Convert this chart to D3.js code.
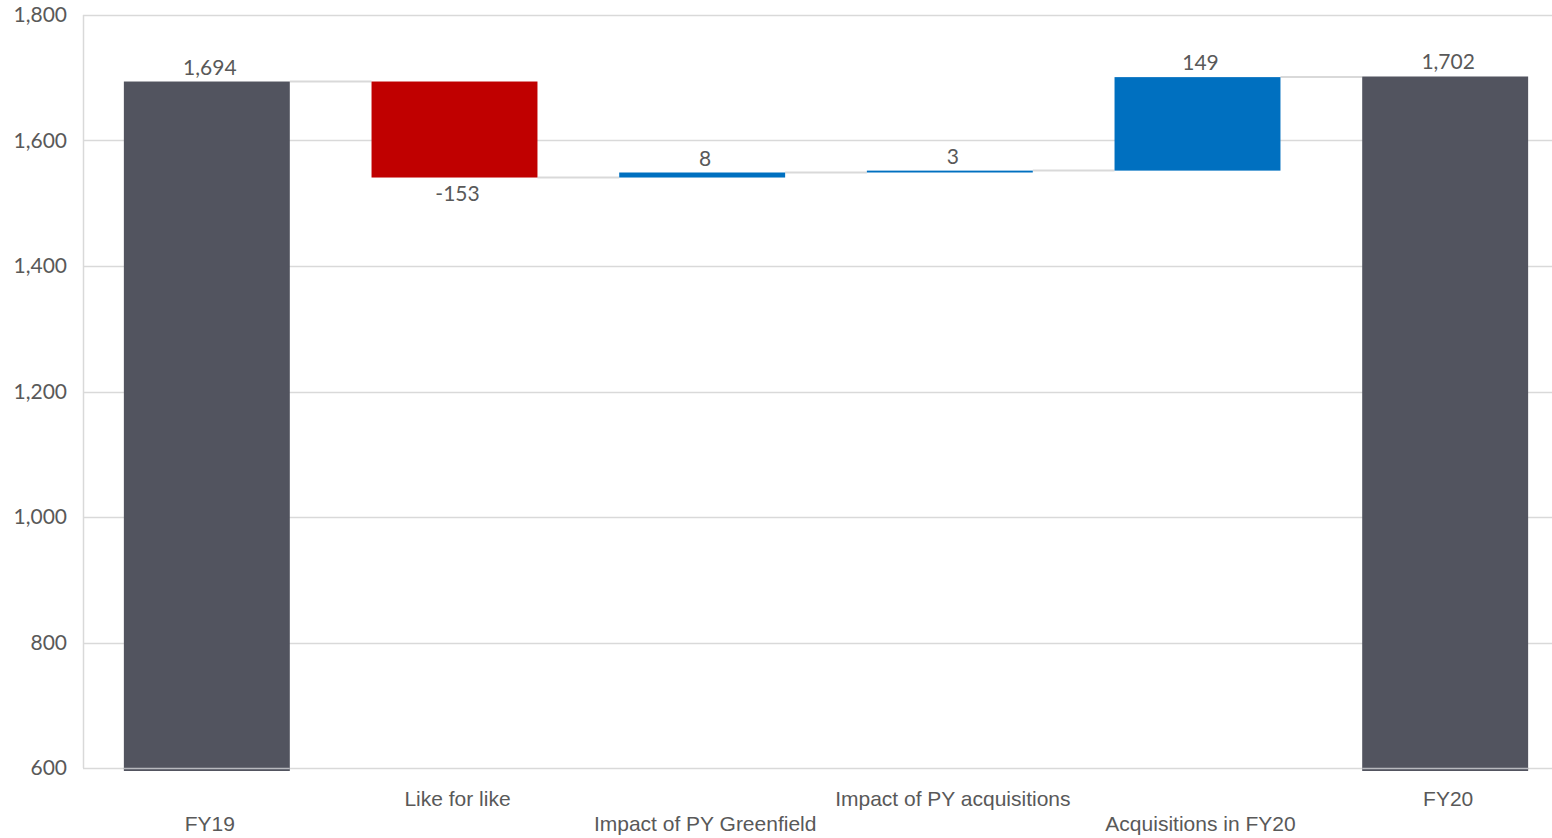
<!DOCTYPE html>
<html>
<head>
<meta charset="utf-8">
<script src="https://cdn.jsdelivr.net/npm/d3@7"></script>
<style>
  html, body { margin: 0; padding: 0; background: #fff; overflow: hidden; }
  svg { display: block; }
</style>
</head>
<body>
<svg id="chart" width="1552" height="838"></svg>
<script>
// Revenue bridge FY19 -> FY20
const categories = ["FY19", "Like for like", "Impact of PY Greenfield", "Impact of PY acquisitions", "Acquisitions in FY20", "FY20"];
const values = [1694, -153, 8, 3, 149, 1702];
const kinds = ["total", "delta", "delta", "delta", "delta", "total"];
const yTicks = [600, 800, 1000, 1200, 1400, 1600, 1800];

const svg = d3.select("#chart");
const margin = { left: 83, top: 15, bottom: 70 };
const plotRight = 1569;
const plotBottom = 768;
const labelShift = 3;

const x = d3.scaleBand().domain(categories).range([margin.left, plotRight]).paddingInner(0.33).paddingOuter(0.165);
const y = d3.scaleLinear().domain([600, 1800]).range([plotBottom, margin.top]);
const fmt = v => (v < 0 ? "-" : "") + d3.format(",")(Math.abs(v));

// Build the bridge steps
let running = 0;
const steps = categories.map((c, i) => {
  let start, end;
  if (kinds[i] === "total") { start = 600; end = values[i]; running = values[i]; }
  else { start = running; end = running + values[i]; running = end; }
  return { cat: c, value: values[i], kind: kinds[i], start, end, level: kinds[i] === "total" ? values[i] : end };
});

// Gridlines
svg.append("g").selectAll("line").data(yTicks).join("line")
  .attr("x1", margin.left).attr("x2", plotRight)
  .attr("y1", d => Math.round(y(d)) + 0.5).attr("y2", d => Math.round(y(d)) + 0.5)
  .attr("stroke", "#d9d9d9").attr("stroke-width", 1.5);

// Vertical axis line
svg.append("line")
  .attr("x1", margin.left + 0.5).attr("x2", margin.left + 0.5)
  .attr("y1", y(1800)).attr("y2", y(600))
  .attr("stroke", "#d9d9d9").attr("stroke-width", 1.5);

// Tick labels
const yAxis = d3.axisLeft(y).tickValues(yTicks).tickSize(0).tickPadding(16).tickFormat(d3.format(","));
const gy = svg.append("g").attr("transform", `translate(${margin.left},0)`).call(yAxis);
gy.select(".domain").remove();
gy.selectAll("text")
  .attr("fill", "#595959").style("font-family", "Lato, 'Open Sans', sans-serif").style("font-size", "21px");

// Connector lines between consecutive bars
const connectors = steps.slice(0, -1).map((s, i) => ({ from: s, to: steps[i + 1] }));
svg.append("g").selectAll("line").data(connectors).join("line")
  .attr("x1", d => x(d.from.cat) + x.bandwidth())
  .attr("x2", d => x(d.to.cat))
  .attr("y1", d => y(d.from.level)).attr("y2", d => y(d.from.level))
  .attr("stroke", "#d9d9d9").attr("stroke-width", 2);

const color = s => s.kind === "total" ? "#52545f" : (s.value < 0 ? "#c00000" : "#0070c0");

// Bars
svg.append("g").selectAll("rect").data(steps).join("rect")
  .attr("x", d => x(d.cat))
  .attr("width", x.bandwidth())
  .attr("y", d => y(Math.max(d.start, d.end)))
  .attr("height", d => Math.max(1.5, Math.abs(y(d.start) - y(d.end)) + (d.kind === "total" ? 3 : 0)))
  .attr("fill", color);

// Baseline gridline drawn over the bottoms of the total bars
svg.append("g").selectAll("line").data(steps.filter(s => s.kind === "total")).join("line")
  .attr("x1", d => x(d.cat)).attr("x2", d => x(d.cat) + x.bandwidth())
  .attr("y1", y(600) + 0.5).attr("y2", y(600) + 0.5)
  .attr("stroke", "#b8b9be").attr("stroke-width", 1.5);

// Value labels
svg.append("g").selectAll("text").data(steps).join("text")
  .attr("x", d => x(d.cat) + x.bandwidth() / 2 + labelShift)
  .attr("y", d => d.value < 0 ? y(Math.min(d.start, d.end)) + 23 : y(Math.max(d.start, d.end)) - 7)
  .attr("text-anchor", "middle")
  .attr("fill", "#595959")
  .style("font-family", "Lato, 'Open Sans', sans-serif").style("font-size", "21px")
  .text(d => fmt(d.value));

// Category labels, staggered on two rows
svg.append("g").selectAll("text").data(categories).join("text")
  .attr("x", d => x(d) + x.bandwidth() / 2 + labelShift)
  .attr("y", (d, i) => i % 2 === 0 ? 831 : 806)
  .attr("text-anchor", "middle")
  .attr("fill", "#595959")
  .style("font-family", "'Liberation Sans', Arial, sans-serif").style("font-size", "21px")
  .text(d => d);
</script>
</body>
</html>
